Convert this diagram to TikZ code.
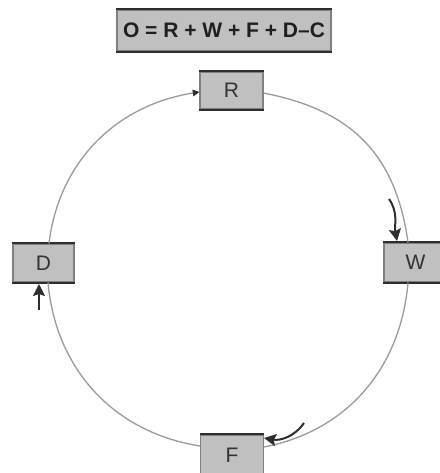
\documentclass[tikz,border=0pt]{standalone}
\usepackage{fontspec}
\setmainfont{Liberation Sans}
\usepackage{tikz}
\usetikzlibrary{arrows.meta}
\usetikzlibrary{calc,positioning}
\definecolor{boxgray}{HTML}{C0C0C0}
\definecolor{ringgray}{HTML}{9C9C9C}
\definecolor{darkline}{HTML}{2E2E2E}

\begin{document}
\begin{tikzpicture}[x=0.75pt, y=0.75pt,
    dark_rule/.style={draw=darkline, line width=1.5pt},
    box_node/.style={rectangle, fill=boxgray, draw=black!50, line width=0.8pt, text=black!80,
        font=\fontsize{15.75}{18}\selectfont, inner sep=0pt,
        minimum width=47.25pt, minimum height=27.75pt,
        append after command={
            (\tikzlastnode.north west) edge[dark_rule] (\tikzlastnode.north east)
            (\tikzlastnode.south west) edge[dark_rule] (\tikzlastnode.south east)}},
    title_node/.style={box_node, font=\bfseries\fontsize{15.75}{18}\selectfont, text=black!88,
        minimum width=160.5pt, minimum height=30.75pt},
    ring_line/.style={draw=ringgray, line width=1pt},
    flow_arrow/.style={draw=darkline, line width=1.5pt, -{Stealth[length=9pt, width=9pt, inset=1.5pt]}}
]

\useasboundingbox (0,0) rectangle (439,-473);

% 公式方框 (Formula box)
\node[title_node] (eq) at (224,-30.5) {O = R + W + F + D–C};

% 定義節點位置 (Define node positions)
\node[box_node] (R) at (231.5,-90.5) {R};
\node[box_node, minimum height=29.25pt] (W) at (415.5,-262.5) {W};
\node[box_node, minimum width=45.75pt, minimum height=28.5pt] (D) at (43.5,-263) {D};
\node[box_node, minimum height=30pt] (F) at (232,-455) {F};

% 環形連線 (Ring arcs)
\draw[ring_line, -{Triangle[length=5pt, width=5pt, color=darkline]}]
    ([xshift=4.1pt]D.north) to[out=83, in=189] ([yshift=-1.1pt]R.west);
\draw[ring_line] ([yshift=-1.9pt]R.east) to[out=-11, in=98, looseness=1.1] ([xshift=-5.6pt]W.north);
\draw[ring_line] ([xshift=-5.6pt]W.south) to[out=-95, in=11] ([yshift=6pt]F.east);
\draw[ring_line] ([yshift=6.75pt]F.west) to[out=171, in=-85] ([xshift=3.4pt]D.south);

% 流向箭頭 (Flow arrows)
\coordinate (w_from) at (389,-199);
\coordinate (w_to) at (397,-241);
\coordinate (f_from) at (304,-423);
\coordinate (f_to) at (264,-438);
\coordinate (d_from) at (39,-310);
\coordinate (d_to) at (39,-284);
\draw[flow_arrow] (w_from) to[out=-55, in=100] (w_to);
\draw[flow_arrow] (f_from) to[out=-125, in=-10] (f_to);
\draw[flow_arrow] (d_from) -- (d_to);

\end{tikzpicture}
\end{document}
